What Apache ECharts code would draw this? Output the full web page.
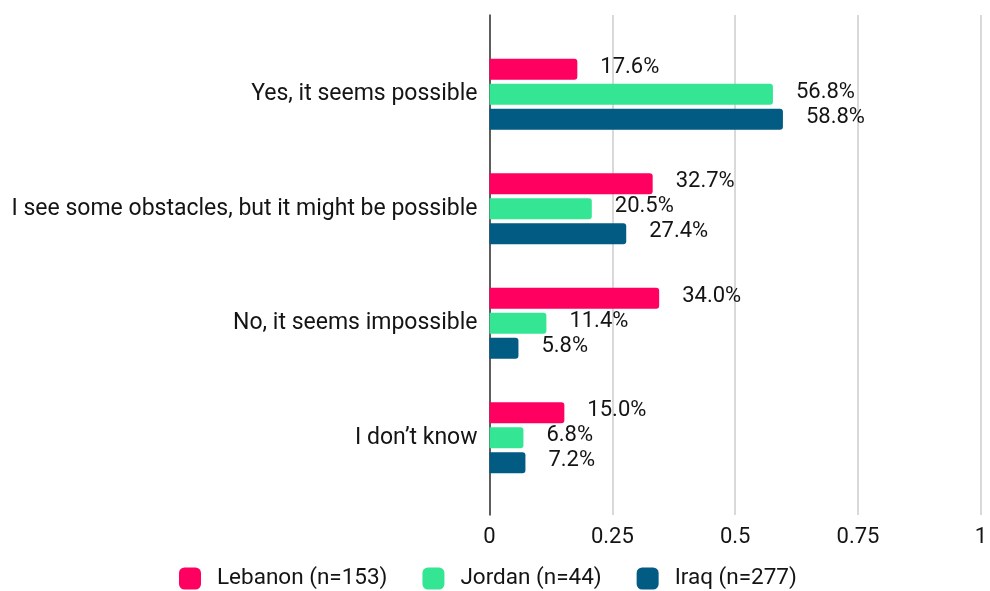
<!DOCTYPE html>
<html>
<head>
<meta charset="utf-8">
<script src="https://cdn.jsdelivr.net/npm/echarts@6/dist/echarts.min.js"></script>
<style>
  html, body { margin: 0; padding: 0; background: #fff; }
  #chart { width: 990px; height: 591px; }
</style>
</head>
<body>
<div id="chart"></div>
<script>
// Survey answers (top to bottom) and share of respondents per country
const categories = [
  'Yes, it seems possible',
  'I see some obstacles, but it might be possible',
  'No, it seems impossible',
  'I don\u2019t know'
];
const seriesNames = ['Lebanon (n=153)', 'Jordan (n=44)', 'Iraq (n=277)'];
const lebanon = [0.176, 0.327, 0.340, 0.150];
const jordan  = [0.568, 0.205, 0.114, 0.068];
const iraq    = [0.588, 0.274, 0.058, 0.072];
const xTicks = [0, 0.25, 0.5, 0.75, 1];

const colors = ['#ff0061', '#34e693', '#015b82'];
const font = 'Roboto, "Noto Sans", sans-serif';
const textColor = '#141414';
const gridLeft = 489.5, gridRight = 1.5;

const chart = echarts.init(document.getElementById('chart'), null, { renderer: 'canvas' });

function barSeries(name, data, color) {
  return {
    name: name,
    type: 'bar',
    xAxisIndex: 1,
    yAxisIndex: 1,
    data: data,
    barWidth: 21,
    barGap: '19%',
    itemStyle: { color: color, borderRadius: [0, 3, 3, 0] },
    label: {
      show: true,
      position: 'right',
      distance: 23,
      offset: [0, -2],
      formatter: p => (p.value * 100).toFixed(1) + '%',
      color: textColor,
      fontSize: 22,
      fontFamily: font
    },
    emphasis: { disabled: true }
  };
}

chart.setOption({
  animation: false,
  backgroundColor: '#fff',
  grid: [
    // frame: gridlines, tick labels and the category axis line
    { left: gridLeft, right: gridRight, top: 15, bottom: 76 },
    // bars
    { left: gridLeft, right: gridRight, top: 37, bottom: 96 }
  ],
  xAxis: [
    {
      gridIndex: 0, type: 'value', min: 0, max: 1, interval: 0.25,
      axisLine: { show: false }, axisTick: { show: false },
      splitLine: { lineStyle: { color: '#cccccc', width: 1.5 } },
      axisLabel: {
        margin: 11, color: textColor, fontSize: 22, fontFamily: font,
        formatter: v => (xTicks.indexOf(v) >= 0 ? String(v) : '')
      }
    },
    {
      gridIndex: 1, type: 'value', min: 0, max: 1, show: false
    }
  ],
  yAxis: [
    {
      gridIndex: 0, type: 'value', min: 0, max: 1,
      axisLine: { show: true, onZero: false, lineStyle: { color: '#333', width: 1.5 } },
      axisTick: { show: false }, axisLabel: { show: false }, splitLine: { show: false }
    },
    {
      gridIndex: 1, type: 'category', data: categories, inverse: true,
      axisLine: { show: false }, axisTick: { show: false }, splitLine: { show: false },
      axisLabel: { margin: 12, color: textColor, fontSize: 23, fontFamily: font }
    }
  ],
  legend: {
    data: seriesNames,
    top: 567,
    left: 179,
    padding: 0,
    itemWidth: 22,
    itemHeight: 22,
    itemGap: 35,
    icon: 'roundRect',
    textStyle: { color: textColor, fontSize: 22.5, fontFamily: font, padding: [0, 0, 0, 11] }
  },
  series: [
    barSeries(seriesNames[0], lebanon, colors[0]),
    barSeries(seriesNames[1], jordan, colors[1]),
    barSeries(seriesNames[2], iraq, colors[2])
  ]
});
</script>
</body>
</html>
